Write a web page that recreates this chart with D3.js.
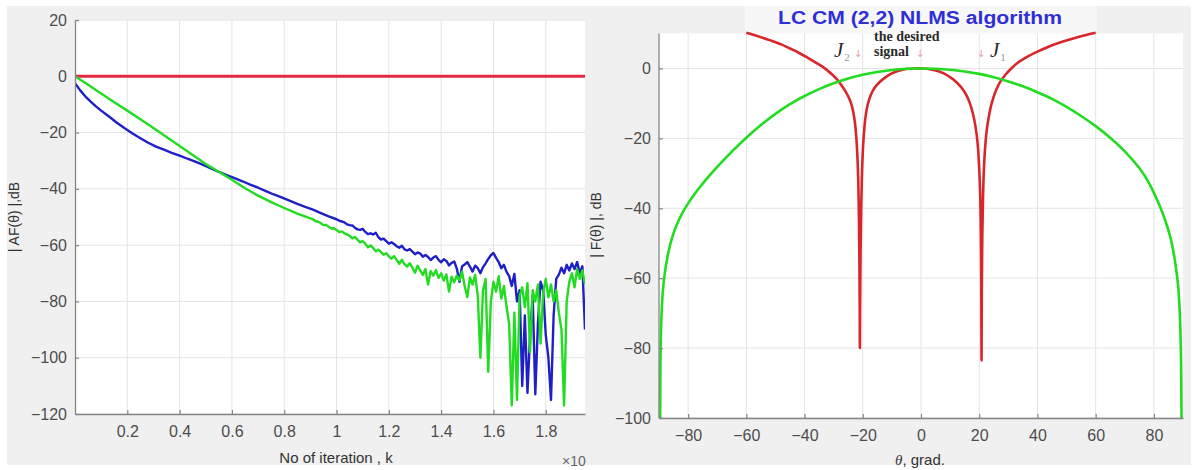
<!DOCTYPE html>
<html>
<head>
<meta charset="utf-8">
<script src="https://cdn.jsdelivr.net/npm/d3@7"></script>
<style>
  body { margin: 0; background: #ffffff; }
  svg { display: block; }
</style>
</head>
<body>
<svg id="chart" width="1194" height="470"></svg>
<script>
// ---------- Left panel: convergence of |AF(θ)| versus iteration (×10^4) ----------
const iterTicks = [0.2, 0.4, 0.6, 0.8, 1, 1.2, 1.4, 1.6, 1.8];
const afTicks = [20, 0, -20, -40, -60, -80, -100, -120];

// reference level (flat at 0 dB)
const redLevel = [[0, 0], [1.95, 0]];

// blue series [k, dB]
const blueSeries = [
  [0,-2.5],[0.02,-5],[0.04,-7.2],[0.06,-9],[0.08,-10.7],[0.1,-12.2],[0.13,-14.3],[0.16,-16.5],
  [0.19,-18.5],[0.22,-20.3],[0.25,-22],[0.28,-23.6],[0.31,-25],[0.34,-26.1],[0.37,-27.2],
  [0.4,-28.2],[0.43,-29.3],[0.46,-30.3],[0.49,-31.5],[0.52,-32.7],[0.55,-34],[0.58,-35.1],
  [0.61,-36.2],[0.64,-37.3],[0.67,-38.5],[0.7,-39.6],[0.73,-40.8],[0.76,-42],[0.79,-43],
  [0.82,-44.2],[0.85,-45.3],[0.88,-46.4],[0.91,-47.4],[0.94,-48.6],[0.97,-49.8],
  [1.00,-50.8],[1.01,-51.3],[1.02,-51.6],[1.03,-51.9],[1.04,-52.6],[1.05,-52.9],[1.06,-53.0],
  [1.07,-53.8],[1.08,-54.4],[1.09,-54.6],[1.10,-54.2],[1.11,-55.3],[1.12,-56.1],[1.13,-55.8],
  [1.14,-56.2],[1.15,-55.6],[1.16,-57.2],[1.17,-58.0],[1.18,-57.7],[1.19,-58.6],[1.20,-59.5],
  [1.21,-59.0],[1.22,-59.6],[1.23,-60.4],[1.24,-60.9],[1.25,-60.2],[1.26,-61.5],[1.27,-61.9],
  [1.28,-61.4],[1.29,-62.3],[1.30,-63.2],[1.31,-62.6],[1.32,-63.0],[1.33,-64.1],[1.34,-63.5],
  [1.35,-64.2],[1.36,-65.3],[1.37,-64.4],[1.38,-63.9],[1.39,-65.2],[1.40,-66.1],[1.41,-65.0],
  [1.42,-65.6],[1.43,-67.2],[1.44,-66.3],[1.45,-65.8],[1.46,-68.4],[1.47,-73.0],[1.48,-67.5],
  [1.49,-66.9],[1.50,-66.0],[1.51,-67.6],[1.52,-69.4],[1.53,-67.3],[1.54,-68.2],[1.55,-70.0],
  [1.56,-67.8],[1.57,-66.5],[1.58,-64.9],[1.59,-63.6],[1.60,-62.8],[1.61,-64.5],[1.62,-66.0],
  [1.63,-68.2],[1.64,-67.0],[1.65,-69.5],[1.66,-71.0],[1.67,-74.5],[1.68,-70.2],[1.69,-80.0],
  [1.70,-76.0],[1.71,-110.0],[1.72,-85.0],[1.73,-112.5],[1.74,-92.0],[1.75,-78.0],[1.76,-113.0],
  [1.77,-88.0],[1.78,-73.0],[1.79,-76.0],[1.80,-92.0],[1.81,-100.0],[1.82,-115.0],[1.83,-85.0],
  [1.84,-72.0],[1.85,-70.5],[1.86,-68.0],[1.87,-70.0],[1.88,-67.0],[1.89,-69.0],[1.90,-66.5],
  [1.91,-68.5],[1.92,-66.0],[1.93,-70.0],[1.94,-67.5],[1.95,-90.0]
];

// green series [k, dB]
const greenSeries = [
  [0,0],[0.05,-3],[0.1,-6.1],[0.15,-9.2],[0.2,-12.2],[0.25,-15.3],[0.3,-18.4],[0.35,-21.6],
  [0.4,-24.8],[0.45,-28.0],[0.5,-31.2],[0.55,-33.9],[0.6,-36.8],[0.65,-39.8],[0.7,-42.4],
  [0.75,-44.7],[0.8,-46.8],[0.85,-48.8],
  [0.90,-50.5],[0.91,-50.8],[0.92,-51.5],[0.93,-51.7],[0.94,-52.2],[0.95,-52.9],[0.96,-52.8],
  [0.97,-53.5],[0.98,-54.1],[0.99,-54.0],[1.00,-54.6],[1.01,-55.4],[1.02,-55.1],[1.03,-55.8],
  [1.04,-56.2],[1.05,-56.7],[1.06,-57.6],[1.07,-57.1],[1.08,-58.0],[1.09,-59.0],[1.10,-58.6],
  [1.11,-59.5],[1.12,-60.8],[1.13,-60.1],[1.14,-61.0],[1.15,-62.2],[1.16,-61.6],[1.17,-62.5],
  [1.18,-63.4],[1.19,-62.9],[1.20,-64.0],[1.21,-64.8],[1.22,-63.9],[1.23,-65.3],[1.24,-66.6],
  [1.25,-65.2],[1.26,-66.8],[1.27,-67.6],[1.28,-66.4],[1.29,-68.0],[1.30,-69.8],[1.31,-67.3],
  [1.32,-69.0],[1.33,-70.6],[1.34,-68.5],[1.35,-74.0],[1.36,-69.2],[1.37,-70.8],[1.38,-68.9],
  [1.39,-71.6],[1.40,-70.0],[1.41,-72.6],[1.42,-70.4],[1.43,-76.5],[1.44,-71.2],[1.45,-73.2],
  [1.46,-70.8],[1.47,-72.5],[1.48,-69.4],[1.49,-74.6],[1.50,-78.5],[1.51,-71.5],[1.52,-74.0],
  [1.53,-70.5],[1.54,-78.0],[1.55,-100.0],[1.56,-76.0],[1.57,-72.0],[1.58,-105.0],[1.59,-80.0],
  [1.60,-73.0],[1.61,-76.5],[1.62,-71.0],[1.63,-79.0],[1.64,-74.5],[1.65,-82.0],[1.66,-88.0],
  [1.67,-117.0],[1.68,-84.0],[1.69,-115.0],[1.70,-78.0],[1.71,-75.0],[1.72,-82.0],[1.73,-73.5],
  [1.74,-98.0],[1.75,-76.0],[1.76,-80.0],[1.77,-74.0],[1.78,-95.0],[1.79,-77.0],[1.80,-72.0],
  [1.81,-78.5],[1.82,-74.0],[1.83,-80.0],[1.84,-76.0],[1.85,-84.0],[1.86,-90.0],[1.87,-117.0],
  [1.88,-80.0],[1.89,-73.0],[1.90,-70.0],[1.91,-75.0],[1.92,-68.5],[1.93,-72.0],[1.94,-69.0],
  [1.95,-74.0]
];

// ---------- Right panel: |F(θ)| beam patterns ----------
const thetaTicks = [-80, -60, -40, -20, 0, 20, 40, 60, 80];
const fTicks = [0, -20, -40, -60, -80, -100];

// LC CM (2,2) NLMS pattern with nulls at the two jammers [θ, dB]
const nlmsPattern = [
  [-60,10.2],[-56,9.2],[-52,8.1],[-48,6.9],[-45,5.7],[-42,4.5],[-39,3.1],[-36,1.6],[-33.5,0.3],
  [-31,-1.4],[-29,-3.0],[-27.5,-4.6],[-26,-6.5],[-25,-8.0],[-24,-10.0],[-23.3,-12.3],
  [-22.7,-15.5],[-22.2,-20],[-21.8,-26],[-21.5,-34],[-21.3,-44],[-21.15,-56],[-21.05,-68],
  [-21.0,-80],[-20.9,-66],[-20.75,-52],[-20.55,-40],[-20.3,-31],[-20.0,-24],[-19.6,-18.5],
  [-19.0,-13.5],[-18.2,-10],[-17.2,-7.5],[-16,-5.6],[-14.1,-3.8],[-12,-2.4],[-10,-1.4],
  [-8,-0.75],[-6,-0.3],[-4,-0.08],[-2,0],[0,0],[2,-0.08],[4,-0.35],[6,-0.8],[8,-1.5],
  [10,-2.5],[12,-3.8],[14,-5.6],[15.5,-7.5],[16.8,-10],[17.8,-12.8],[18.7,-16.5],[19.4,-21],
  [19.9,-27],[20.3,-35],[20.55,-46],[20.7,-60],[20.8,-83.5],[20.9,-62],[21.05,-48],
  [21.3,-37],[21.6,-29],[22.0,-23],[22.6,-17.5],[23.3,-13.8],[24.2,-10.2],[25.5,-6.8],
  [27,-4.1],[29,-1.8],[31,0],[33,1.5],[36,3.1],[40,4.8],[44,6.3],[48,7.5],[52,8.5],
  [56,9.4],[60,10.2]
];

// broad element pattern [θ, dB]
const elementPattern = [
  [-89.6,-100],[-89.5,-84],[-89.2,-72],[-88.7,-64],[-88,-58.5],[-87,-53.5],[-86,-49.9],
  [-85,-47.1],[-84,-44.9],[-82,-41.4],[-80,-38.6],[-78,-36.2],[-76,-34.0],[-74,-31.95],
  [-72,-30.0],[-70,-28.15],[-65,-23.8],[-60,-19.8],
  [-55,-16.2],[-50,-12.98],[-45,-10.2],[-40,-7.88],[-35,-5.9],[-30,-4.25],[-25,-2.9],
  [-20,-1.83],[-15,-1.0],[-10,-0.43],[-5,-0.1],[0,0],
  [5,-0.08],[10,-0.35],[15,-0.85],[20,-1.55],[25,-2.5],[30,-3.7],[35,-5.1],[40,-6.8],[45,-8.7],
  [50,-11.0],[55,-13.6],[60,-16.5],[65,-19.8],[70,-23.7],[75,-28.5],[78,-32.3],[80,-35.6],
  [82,-39.3],[84,-43.7],[85.5,-47.8],[86.5,-51.5],[87.5,-56.5],[88.3,-62],[88.9,-70],
  [89.3,-82],[89.5,-100]
];

const svg = d3.select("#chart");
const panelGray = "#f0f0f0";
const gridColor = "#e4e4e4";
const axisColor = "#858585";
const tickText = "#4d4d4d";
const sans = "Liberation Sans, Arial, sans-serif";
const serif = "Liberation Serif, Times New Roman, serif";

const defs = svg.append("defs");

// ---------- panel backgrounds ----------
svg.append("rect").attr("x", 7).attr("y", 6).attr("width", 579).attr("height", 459).attr("fill", panelGray);
svg.append("rect").attr("x", 586).attr("y", 6).attr("width", 605).attr("height", 459).attr("fill", panelGray);
// light box behind the right title
svg.append("rect").attr("x", 745).attr("y", 6).attr("width", 352).attr("height", 28).attr("fill", "#f7f7f7");

// ---------- left chart ----------
const xL = d3.scaleLinear().domain([0, 1.95]).range([75, 585]);
const yL = d3.scaleLinear().domain([-120, 20]).range([414, 20]);

svg.append("rect").attr("x", xL(0)).attr("y", yL(20))
  .attr("width", xL(1.95) - xL(0)).attr("height", yL(-120) - yL(20)).attr("fill", "#ffffff");

defs.append("clipPath").attr("id", "clipL").append("rect")
  .attr("x", xL(0)).attr("y", yL(20)).attr("width", xL(1.95) - xL(0)).attr("height", yL(-120) - yL(20));
defs.append("clipPath").attr("id", "clipPanelL").append("rect")
  .attr("x", 0).attr("y", 0).attr("width", 586).attr("height", 470);

const gL = svg.append("g");
gL.selectAll("line.vgrid").data(iterTicks).join("line")
  .attr("x1", d => xL(d)).attr("x2", d => xL(d)).attr("y1", yL(20)).attr("y2", yL(-120))
  .attr("stroke", gridColor).attr("stroke-width", 1);
gL.selectAll("line.hgrid").data(afTicks).join("line")
  .attr("x1", xL(0)).attr("x2", xL(1.95)).attr("y1", d => yL(d)).attr("y2", d => yL(d))
  .attr("stroke", gridColor).attr("stroke-width", 1);

const lineL = d3.line().x(d => xL(d[0])).y(d => yL(d[1]));
const plotL = gL.append("g").attr("clip-path", "url(#clipL)");
plotL.append("path").datum(redLevel).attr("d", lineL)
  .attr("fill", "none").attr("stroke", "#e22a3c").attr("stroke-width", 3);
plotL.append("path").datum(blueSeries).attr("d", lineL)
  .attr("fill", "none").attr("stroke", "#1f1fc8").attr("stroke-width", 2.4).attr("stroke-linejoin", "round");
plotL.append("path").datum(greenSeries).attr("d", lineL)
  .attr("fill", "none").attr("stroke", "#22dc22").attr("stroke-width", 2.4).attr("stroke-linejoin", "round");

function styleAxis(g) {
  g.select(".domain").attr("stroke", axisColor).attr("stroke-width", 1.3);
  g.selectAll(".tick line").attr("stroke", axisColor).attr("stroke-width", 1.2);
  g.selectAll(".tick text").attr("fill", tickText).attr("font-family", sans).attr("font-size", 16);
}

const axLy = svg.append("g").attr("transform", `translate(${xL(0)},0)`)
  .call(d3.axisLeft(yL).tickValues(afTicks).tickFormat(d3.format("d")).tickSizeInner(-4).tickSizeOuter(0).tickPadding(8));
styleAxis(axLy);
const axLx = svg.append("g").attr("transform", `translate(0,${yL(-120)})`)
  .call(d3.axisBottom(xL).tickValues(iterTicks).tickFormat(d => String(d)).tickSizeInner(-4).tickSizeOuter(0).tickPadding(12));
styleAxis(axLx);

svg.append("text").attr("transform", `translate(19,217) rotate(-90)`)
  .attr("text-anchor", "middle").attr("font-family", sans).attr("font-size", 14).attr("fill", "#333")
  .text("| AF(θ) |,dB");
svg.append("text").attr("x", 336).attr("y", 463)
  .attr("text-anchor", "middle").attr("font-family", sans).attr("font-size", 15).attr("fill", "#333")
  .text("No of iteration , k");
svg.append("g").attr("clip-path", "url(#clipPanelL)").append("text")
  .attr("x", 562).attr("y", 466).attr("font-family", sans).attr("font-size", 14).attr("fill", "#666")
  .text("×10");

// ---------- right chart ----------
const xR = d3.scaleLinear().domain([-90, 90]).range([659, 1183]);
const yR = d3.scaleLinear().domain([-100, 10]).range([418, 33.5]);

svg.append("rect").attr("x", xR(-90)).attr("y", yR(10))
  .attr("width", xR(90) - xR(-90)).attr("height", yR(-100) - yR(10)).attr("fill", "#ffffff");

const gR = svg.append("g");
gR.selectAll("line.vgrid").data(thetaTicks).join("line")
  .attr("x1", d => xR(d)).attr("x2", d => xR(d)).attr("y1", yR(10)).attr("y2", yR(-100))
  .attr("stroke", gridColor).attr("stroke-width", 1);
gR.selectAll("line.hgrid").data(fTicks).join("line")
  .attr("x1", xR(-90)).attr("x2", xR(90)).attr("y1", d => yR(d)).attr("y2", d => yR(d))
  .attr("stroke", gridColor).attr("stroke-width", 1);

const lineR = d3.line().x(d => xR(d[0])).y(d => yR(d[1])).curve(d3.curveCatmullRom.alpha(0.5));
gR.append("path").datum(nlmsPattern).attr("d", lineR)
  .attr("fill", "none").attr("stroke", "#d8262a").attr("stroke-width", 2.6).attr("stroke-linejoin", "round");
gR.append("path").datum(elementPattern).attr("d", lineR)
  .attr("fill", "none").attr("stroke", "#22dc22").attr("stroke-width", 2.6).attr("stroke-linejoin", "round");

const axRy = svg.append("g").attr("transform", `translate(${xR(-90)},0)`)
  .call(d3.axisLeft(yR).tickValues(fTicks).tickFormat(d3.format("d")).tickSizeInner(-4).tickSizeOuter(0).tickPadding(8));
styleAxis(axRy);
axRy.select(".domain").attr("d", `M0,${yR(10)}V${yR(-100)}`);
const axRx = svg.append("g").attr("transform", `translate(0,${yR(-100)})`)
  .call(d3.axisBottom(xR).tickValues(thetaTicks).tickFormat(d3.format("d")).tickSizeInner(-4).tickSizeOuter(0).tickPadding(12));
styleAxis(axRx);

svg.append("text").attr("transform", `translate(601,225) rotate(-90)`)
  .attr("text-anchor", "middle").attr("font-family", sans).attr("font-size", 14).attr("fill", "#333")
  .text("| F(θ) |, dB");
const xlab = svg.append("text").attr("x", 920).attr("y", 465)
  .attr("text-anchor", "middle").attr("font-family", sans).attr("font-size", 15).attr("fill", "#333");
xlab.append("tspan").attr("font-family", serif).attr("font-style", "italic").text("θ");
xlab.append("tspan").text(", grad.");

svg.append("text").attr("x", 920).attr("y", 24)
  .attr("text-anchor", "middle").attr("font-family", sans).attr("font-weight", "bold")
  .attr("font-size", 17.5).attr("fill", "#2f2fd8")
  .attr("textLength", 284).attr("lengthAdjust", "spacingAndGlyphs")
  .text("LC CM (2,2) NLMS algorithm");

// annotations: jammers and desired signal
const arrowColor = "#e39aa6";
function jLabel(x, sub) {
  const t = svg.append("text").attr("x", x).attr("y", 57).attr("font-family", serif).attr("fill", "#2a2a2a");
  t.append("tspan").attr("font-style", "italic").attr("font-size", 21).text("J");
  t.append("tspan").attr("font-size", 11).attr("fill", "#999").attr("dy", 4).attr("dx", 1).text(sub);
}
function arrow(x) {
  svg.append("text").attr("x", x).attr("y", 57).attr("text-anchor", "middle")
    .attr("font-family", "DejaVu Sans, sans-serif").attr("font-size", 10).attr("fill", arrowColor).text("↓");
}
jLabel(834, "2");
arrow(858);
svg.append("text").attr("x", 874).attr("y", 41).attr("font-family", serif).attr("font-weight", "bold")
  .attr("font-size", 14).attr("fill", "#2a2a2a").text("the desired");
svg.append("text").attr("x", 874).attr("y", 56).attr("font-family", serif).attr("font-weight", "bold")
  .attr("font-size", 14).attr("fill", "#2a2a2a").text("signal");
arrow(920);
arrow(981);
jLabel(990, "1");
</script>
</body>
</html>
